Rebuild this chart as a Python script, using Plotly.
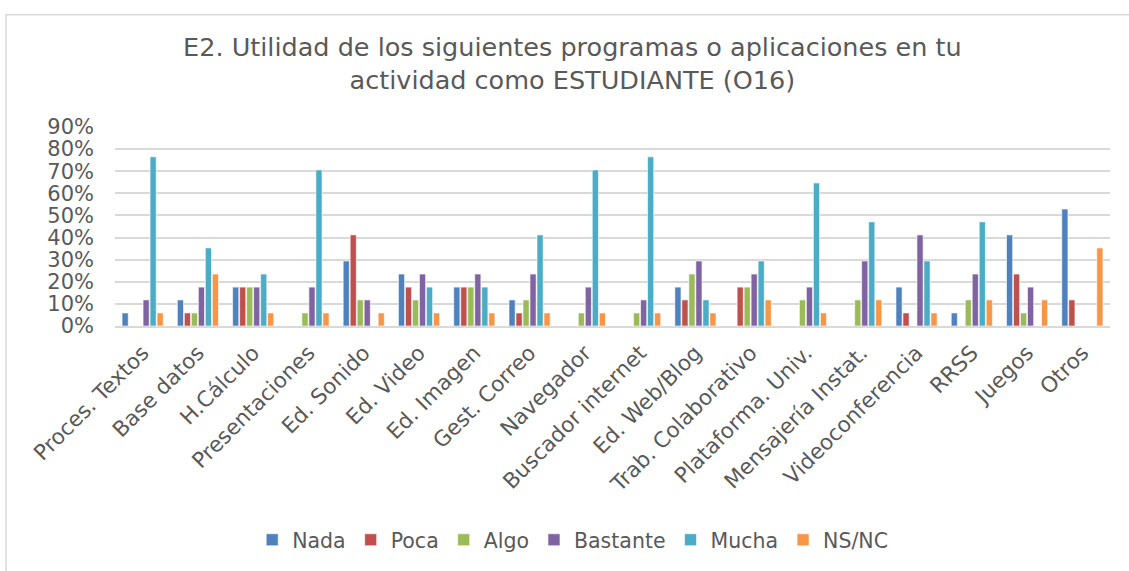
import plotly.graph_objects as go

# Categories (programs / applications)
categories = [
    "Proces. Textos", "Base datos", "H.Cálculo", "Presentaciones", "Ed. Sonido",
    "Ed. Video", "Ed. Imagen", "Gest. Correo", "Navegador", "Buscador internet",
    "Ed. Web/Blog", "Trab. Colaborativo", "Plataforma. Univ.", "Mensajería Instat.",
    "Videoconferencia", "RRSS", "Juegos", "Otros",
]

# Share of answers per level (fractions)
nada      = [0.059, 0.118, 0.176, 0.0,   0.294, 0.235, 0.176, 0.118, 0.0,   0.0,   0.176, 0.0,   0.0,   0.0,   0.176, 0.059, 0.412, 0.529]
poca      = [0.0,   0.059, 0.176, 0.0,   0.412, 0.176, 0.176, 0.059, 0.0,   0.0,   0.118, 0.176, 0.0,   0.0,   0.059, 0.0,   0.235, 0.118]
algo      = [0.0,   0.059, 0.176, 0.059, 0.118, 0.118, 0.176, 0.118, 0.059, 0.059, 0.235, 0.176, 0.118, 0.118, 0.0,   0.118, 0.059, 0.0]
bastante  = [0.118, 0.176, 0.176, 0.176, 0.118, 0.235, 0.235, 0.235, 0.176, 0.118, 0.294, 0.235, 0.176, 0.294, 0.412, 0.235, 0.176, 0.0]
mucha     = [0.765, 0.353, 0.235, 0.706, 0.0,   0.176, 0.176, 0.412, 0.706, 0.765, 0.118, 0.294, 0.647, 0.471, 0.294, 0.471, 0.0,   0.0]
nsnc      = [0.059, 0.235, 0.059, 0.059, 0.059, 0.059, 0.059, 0.059, 0.059, 0.059, 0.059, 0.118, 0.059, 0.118, 0.059, 0.118, 0.118, 0.353]

series_names = ["Nada", "Poca", "Algo", "Bastante", "Mucha", "NS/NC"]
series_values = [nada, poca, algo, bastante, mucha, nsnc]
colors = ["#4F81BD", "#C0504D", "#9BBB59", "#8064A2", "#4BACC6", "#F79646"]

y_ticks = [i / 10 for i in range(10)]
y_tick_labels = [f"{i * 10}%" for i in range(10)]

FONT = "DejaVu Sans"
GREY = "#595959"

fig = go.Figure()
for name, vals, col in zip(series_names, series_values, colors):
    fig.add_trace(go.Bar(
        name=name, x=categories, y=vals,
        marker=dict(color=col, line=dict(color="rgba(255,255,255,0.6)", width=1)),
    ))

fig.update_layout(
    width=1129, height=571,
    margin=dict(l=115, r=19, t=127, b=240, pad=0),
    paper_bgcolor="white", plot_bgcolor="white",
    barmode="group", bargap=0.24, bargroupgap=0.12,
    font=dict(family=FONT, color=GREY),
    title=dict(
        text="E2. Utilidad de los siguientes programas o aplicaciones en tu<br>actividad como ESTUDIANTE (O16)",
        x=0.507, xanchor="center", xref="container",
        y=1 - 56 / 571, yanchor="top", yref="container",
        font=dict(family=FONT, size=25.5, color=GREY),
    ),
    xaxis=dict(
        tickangle=-45, tickfont=dict(family=FONT, size=21.5, color=GREY),
        showline=True, linecolor="#D9D9D9", linewidth=1.5,
        ticks="", showgrid=False, ticklabelstandoff=4,
    ),
    yaxis=dict(
        range=[0, 0.9], tickvals=y_ticks, ticktext=y_tick_labels,
        tickfont=dict(family=FONT, size=21, color=GREY),
        showgrid=True, gridcolor="#D9D9D9", gridwidth=1.5,
        zeroline=False, ticks="", ticklabelstandoff=20,
    ),
    legend=dict(
        orientation="h", x=0.46, xanchor="center", y=-1.075, yanchor="middle",
        font=dict(family=FONT, size=20.5, color=GREY),
        itemwidth=30, traceorder="normal",
    ),
    showlegend=True,
)

# Chart frame
fig.add_shape(
    type="rect", xref="paper", yref="paper",
    x0=(6 - 115) / 995, x1=1.05, y0=(331 - 12) / 204, y1=-1.3,
    line=dict(color="#D9D9D9", width=1.5), fillcolor="rgba(0,0,0,0)", layer="below",
)

fig.write_html("out.html")
